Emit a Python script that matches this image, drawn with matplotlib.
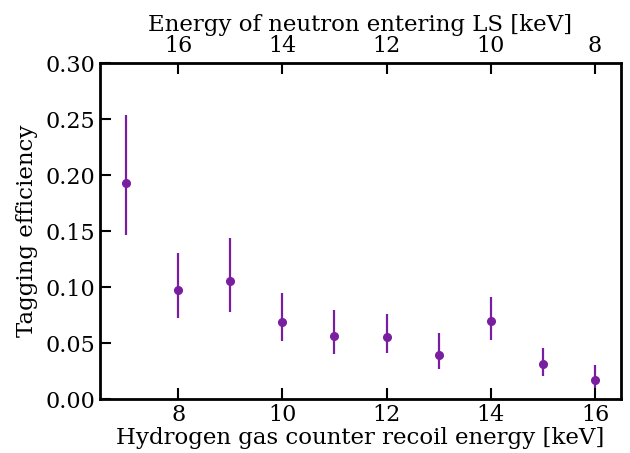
import matplotlib
matplotlib.use("Agg")
import matplotlib.pyplot as plt
import numpy as np

plt.rcParams['font.family'] = ['DejaVu Serif']

recoil_energy = [7, 8, 9, 10, 11, 12, 13, 14, 15, 16]
efficiency = [0.193, 0.097, 0.105, 0.069, 0.056, 0.055, 0.039, 0.070, 0.031, 0.017]
err_upper = [0.2536, 0.1307, 0.1434, 0.0943, 0.0798, 0.0762, 0.0586, 0.0914, 0.0458, 0.0304]
err_lower = [0.1462, 0.0723, 0.0775, 0.0515, 0.0405, 0.0414, 0.0268, 0.0530, 0.0202, 0.0095]
bottom_ticks = [8, 10, 12, 14, 16]
top_ticks = [16, 14, 12, 10, 8]
y_ticks = [0.00, 0.05, 0.10, 0.15, 0.20, 0.25, 0.30]

eff = np.array(efficiency)
yerr = [eff - np.array(err_lower), np.array(err_upper) - eff]

fig = plt.figure(figsize=(6.3, 4.53), dpi=100)
ax = fig.add_axes([100/630, 54/453, 521/630, 336/453])

color = '#7a1ea1'
ax.errorbar(recoil_energy, efficiency, yerr=yerr, fmt='o', color=color,
            markersize=5.5, elinewidth=1.6, capsize=0)

ax.set_xlim(6.5, 16.5)
ax.set_ylim(0, 0.30)
ax.set_xticks(bottom_ticks)
ax.set_yticks(y_ticks)
ax.set_yticklabels([f"{v:.2f}" for v in y_ticks])
ax.tick_params(direction='in', length=8, width=1.5, labelsize=16, top=False, right=False)
for s in ax.spines.values():
    s.set_linewidth(2)

ax.set_xlabel("Hydrogen gas counter recoil energy [keV]", fontsize=16.5, labelpad=1)
ax.set_ylabel("Tagging efficiency", fontsize=16.5, labelpad=5)

sec = ax.secondary_xaxis('top', functions=(lambda x: 24 - x, lambda x: 24 - x))
sec.set_xticks(top_ticks)
sec.tick_params(direction='in', length=8, width=1.5, labelsize=16, pad=4)
sec.set_xlabel("Energy of neutron entering LS [keV]", fontsize=16.5, labelpad=3)

fig.savefig("out.png", dpi=100)
